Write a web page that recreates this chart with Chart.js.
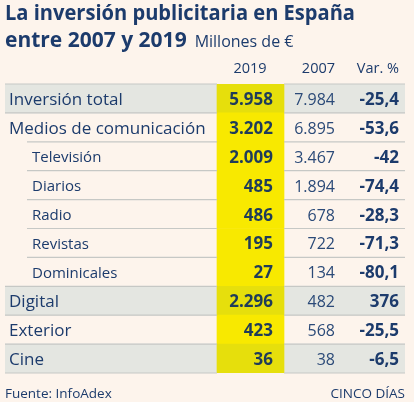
<!DOCTYPE html>
<html>
<head>
<meta charset="utf-8">
<script src="https://cdn.jsdelivr.net/npm/chart.js@4.4.0/dist/chart.umd.min.js"></script>
<style>
  html, body { margin: 0; padding: 0; background: #fdf4ec; }
  #wrap { position: relative; width: 414px; height: 402px; }
</style>
</head>
<body>
<div id="wrap"><canvas id="c"></canvas></div>
<script>
// ---- data ----
const titleLine1 = 'La inversión publicitaria en España';
const titleLine2 = 'entre 2007 y 2019';
const unitsLabel = 'Millones de €';
const colHeaders = ['2019', '2007', 'Var. %'];
const rows = ['Inversión total', 'Medios de comunicación', 'Televisión', 'Diarios', 'Radio',
              'Revistas', 'Dominicales', 'Digital', 'Exterior', 'Cine'];
const rowLevel = [0, 0, 1, 1, 1, 1, 1, 0, 0, 0];       // 1 = sub-category of Medios
const rowShaded = [true, false, false, false, false, false, false, true, false, true];
const values2019 = [5958, 3202, 2009, 485, 486, 195, 27, 2296, 423, 36];
const values2007 = [7984, 6895, 3467, 1894, 678, 722, 134, 482, 568, 38];
const varPct = [-25.4, -53.6, -42, -74.4, -28.3, -71.3, -80.1, 376, -25.5, -6.5];
const sourceText = 'Fuente: InfoAdex';
const creditText = 'CINCO DÍAS';

// ---- layout (table column units on the x scale, 0..400) ----
const COL = { left: 0, right: 400, hiStart: 212, hiEnd: 279, labelX: 4, subLabelX: 27, subLine: 22,
              c2019Right: 268, c2019Head: 245, c2007Right: 330, varRight: 394 };
const NAVY = '#1c3b6c';
const FONT = '"Open Sans", "Noto Sans", sans-serif';

function fmtThousands(n) {
  const s = String(Math.abs(n));
  let out = '';
  for (let i = 0; i < s.length; i++) {
    if (i > 0 && (s.length - i) % 3 === 0) out += '.';
    out += s[i];
  }
  return (n < 0 ? '-' : '') + out;
}
function fmtPct(n) {
  const r = Math.round(n * 10) / 10;
  let s = Number.isInteger(r) ? String(Math.abs(r)) : Math.abs(r).toFixed(1).replace('.', ',');
  return (r < 0 ? '-' : '') + s;
}

const tablePlugin = {
  id: 'tablePlugin',
  beforeDraw(chart) {
    const ctx = chart.ctx;
    ctx.save();
    ctx.fillStyle = '#fdf4ec';
    ctx.fillRect(0, 0, chart.width, chart.height);
    ctx.restore();
  },
  afterDatasetsDraw(chart) {
    const ctx = chart.ctx;
    const x = chart.scales.x, y = chart.scales.y;
    const area = chart.chartArea;
    const rowH = (area.bottom - area.top) / rows.length;
    const X = v => x.getPixelForValue(v);
    ctx.save();

    // separators (not across the highlighted column)
    ctx.strokeStyle = '#c6c8c5';
    ctx.lineWidth = 1.2;
    for (let i = 0; i <= rows.length; i++) {
      const yy = (i === rows.length ? y.getPixelForValue(i - 1) + rowH / 2 : y.getPixelForValue(i) - rowH / 2);
      const start = (i < rows.length && rowLevel[i] === 1) ? COL.subLine : COL.left;
      ctx.beginPath();
      ctx.moveTo(X(start), yy); ctx.lineTo(X(COL.hiStart), yy);
      ctx.moveTo(X(COL.hiEnd), yy); ctx.lineTo(X(COL.right), yy);
      ctx.stroke();
    }

    // title
    ctx.fillStyle = NAVY;
    ctx.textBaseline = 'alphabetic';
    ctx.textAlign = 'left';
    ctx.font = 'bold 21px ' + FONT;
    ctx.fillText(titleLine1, 5, 20, 350);
    ctx.fillText(titleLine2, 5, 47, 186);
    let w2 = Math.min(ctx.measureText(titleLine2).width, 186);
    ctx.font = '16px ' + FONT;
    ctx.fillText(unitsLabel, 5 + w2 + 8, 47, 103);

    // column headers
    ctx.font = '14.5px ' + FONT;
    ctx.textAlign = 'center';
    ctx.fillText(colHeaders[0], X(COL.c2019Head), 73);
    ctx.textAlign = 'right';
    ctx.fillText(colHeaders[1], X(COL.c2007Right), 73);
    ctx.fillText(colHeaders[2], X(COL.varRight), 73);

    // rows
    rows.forEach((label, i) => {
      const cy = y.getPixelForValue(i);
      const base = cy + 6.5;
      ctx.fillStyle = NAVY;
      ctx.textAlign = 'left';
      if (rowLevel[i] === 0) {
        ctx.font = '17px ' + FONT;
        ctx.fillText(label, X(COL.labelX), base);
      } else {
        ctx.font = '15px ' + FONT;
        ctx.fillText(label, X(COL.subLabelX), base - 0.5);
      }
      ctx.textAlign = 'right';
      ctx.font = 'bold 17px ' + FONT;
      ctx.fillStyle = '#1f3c5a';
      ctx.fillText(fmtThousands(values2019[i]), X(COL.c2019Right), base);
      ctx.font = '16px ' + FONT;
      ctx.fillStyle = '#2b4a78';
      ctx.fillText(fmtThousands(values2007[i]), X(COL.c2007Right), base);
      ctx.font = 'bold 17px ' + FONT;
      ctx.fillStyle = NAVY;
      ctx.fillText(fmtPct(varPct[i]), X(COL.varRight), base);
    });

    // footer
    ctx.font = '13.5px ' + FONT;
    ctx.fillStyle = NAVY;
    ctx.textAlign = 'left';
    ctx.fillText(sourceText, 5, 398);
    ctx.textAlign = 'right';
    ctx.fillText(creditText, 405, 398);
    ctx.restore();
  }
};

new Chart(document.getElementById('c'), {
  type: 'bar',
  data: {
    labels: rows,
    datasets: [
      {
        label: 'highlight 2019',
        data: rows.map(() => [COL.hiStart, COL.hiEnd]),
        backgroundColor: rowShaded.map(s => s ? '#e6df0c' : '#f8e900'),
        grouped: false, order: 1,
        barPercentage: 1, categoryPercentage: 1, borderWidth: 0
      },
      {
        label: 'shaded rows',
        data: rowShaded.map(s => s ? [COL.left, COL.right] : null),
        backgroundColor: '#e4e6e1',
        grouped: false, order: 2,
        barPercentage: 1, categoryPercentage: 1, borderWidth: 0
      }
    ]
  },
  options: {
    indexAxis: 'y',
    responsive: true,
    maintainAspectRatio: false,
    animation: false,
    layout: { padding: { left: 5, right: 9, top: 84, bottom: 29 } },
    scales: {
      x: { type: 'linear', min: 0, max: 400, display: false },
      y: { type: 'category', display: false, offset: true }
    },
    plugins: { legend: { display: false }, tooltip: { enabled: false }, title: { display: false } }
  },
  plugins: [tablePlugin]
});
</script>
</body>
</html>
